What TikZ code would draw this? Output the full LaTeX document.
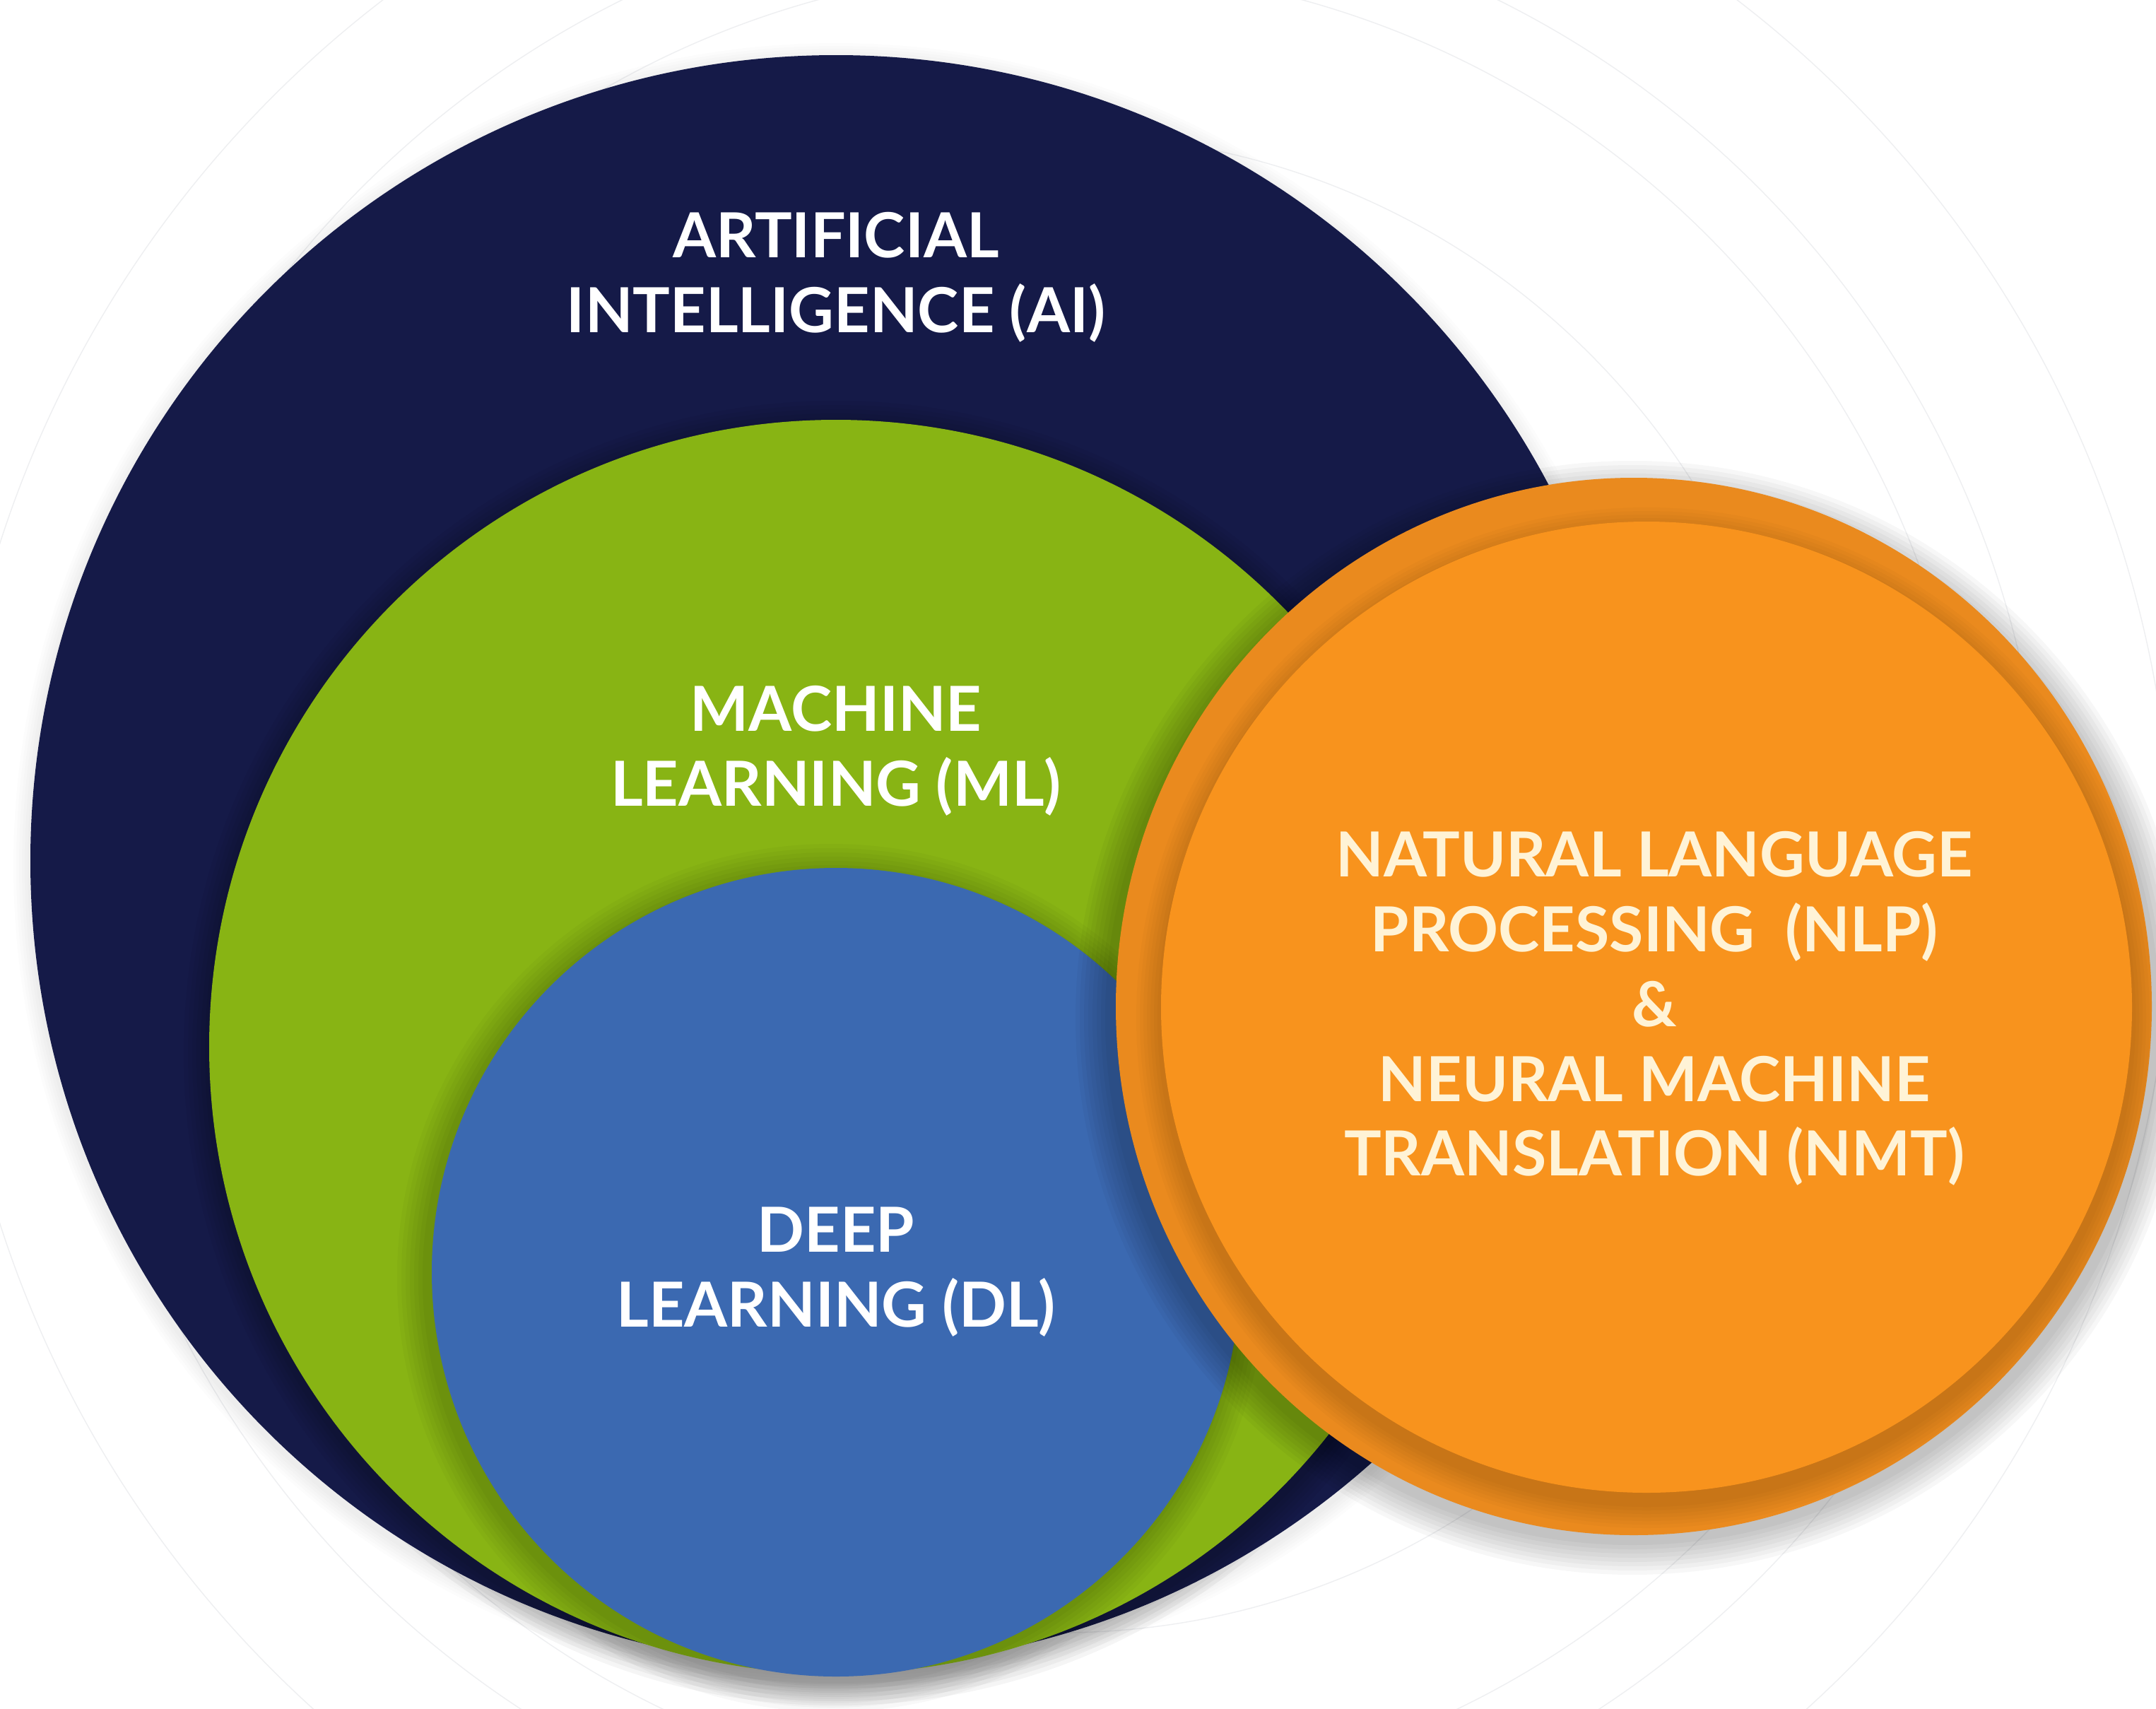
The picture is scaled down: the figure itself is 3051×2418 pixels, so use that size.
\documentclass[tikz,border=0pt]{standalone}
\usepackage{fontspec}
\setmainfont{Lato}
\begin{document}
\begin{tikzpicture}[x=0.01cm,y=-0.01cm]
\definecolor{navy}{RGB}{21,26,72}
\definecolor{mlgreen}{RGB}{136,180,20}
\definecolor{dlblue}{RGB}{59,105,177}
\definecolor{orring}{RGB}{234,138,30}
\definecolor{orinner}{RGB}{248,147,29}
\definecolor{cream}{RGB}{255,243,214}
\definecolor{faint}{RGB}{238,239,241}
\tikzset{
  lbl/.style={font=\bfseries\fontsize{25}{30.1}\selectfont, text=white, align=center, inner sep=0pt},
  nlplbl/.style={lbl, text=cream},
  faintline/.style={draw=faint, line width=0.4pt}
}
\newcommand\softshadow[6]{% x y r step opacity count
  \foreach \k in {1,...,#6} {\fill[black, opacity=#5] (#1,#2) circle [radius=#3+\k*#4];}}
\useasboundingbox (0,0) rectangle (3051,2418);
\fill[white] (0,0) rectangle (3051,2418);
% faint background circles
\draw[faintline] (1500,1250) circle [radius=1296];
\draw[faintline] (1500,1250) circle [radius=1395];
\draw[faintline] (1500,1250) circle [radius=1575];
\draw[faintline] (1500,1250) circle [radius=1060];
% AI
\softshadow{1183}{1225}{1140}{4}{0.01}{6}
\coordinate (cAI) at (1183,1218);
\fill[navy] (cAI) circle [radius=1140];
% ML
\softshadow{1183}{1490}{887}{6}{0.04}{6}
\coordinate (cML) at (1183,1481);
\fill[mlgreen] (cML) circle [radius=887];
% DL
\softshadow{1176}{1808}{572}{6}{0.028}{7}
\coordinate (cDL) at (1183,1800);
\fill[dlblue] (cDL) circle [radius=572];
% NLP outer ring
\softshadow{2310}{1440}{740}{6}{0.03}{8}
\coordinate (cNO) at (2312,1424);
\fill[orring] (cNO) ellipse [x radius=733, y radius=748];
\begin{scope}
  \clip (cNO) ellipse [x radius=733, y radius=748];
  \softshadow{2330}{1440}{687}{5}{0.02}{7}
\end{scope}
\coordinate (cNI) at (2330,1425);
\fill[orinner] (cNI) circle [radius=687];
% labels
\node[lbl] (ai) at (1183,392) {ARTIFICIAL\\INTELLIGENCE (AI)};
\node[lbl] (ml) at (1183,1062) {MACHINE\\LEARNING (ML)};
\node[lbl] (dl) at (1183,1800) {DEEP\\LEARNING (DL)};
\node[nlplbl] (nlp) at (2341,1427) {NATURAL LANGUAGE\\PROCESSING\ \ (NLP)\\\&\\NEURAL MACHINE\\TRANSLATION (NMT)};
\end{tikzpicture}
\end{document}
